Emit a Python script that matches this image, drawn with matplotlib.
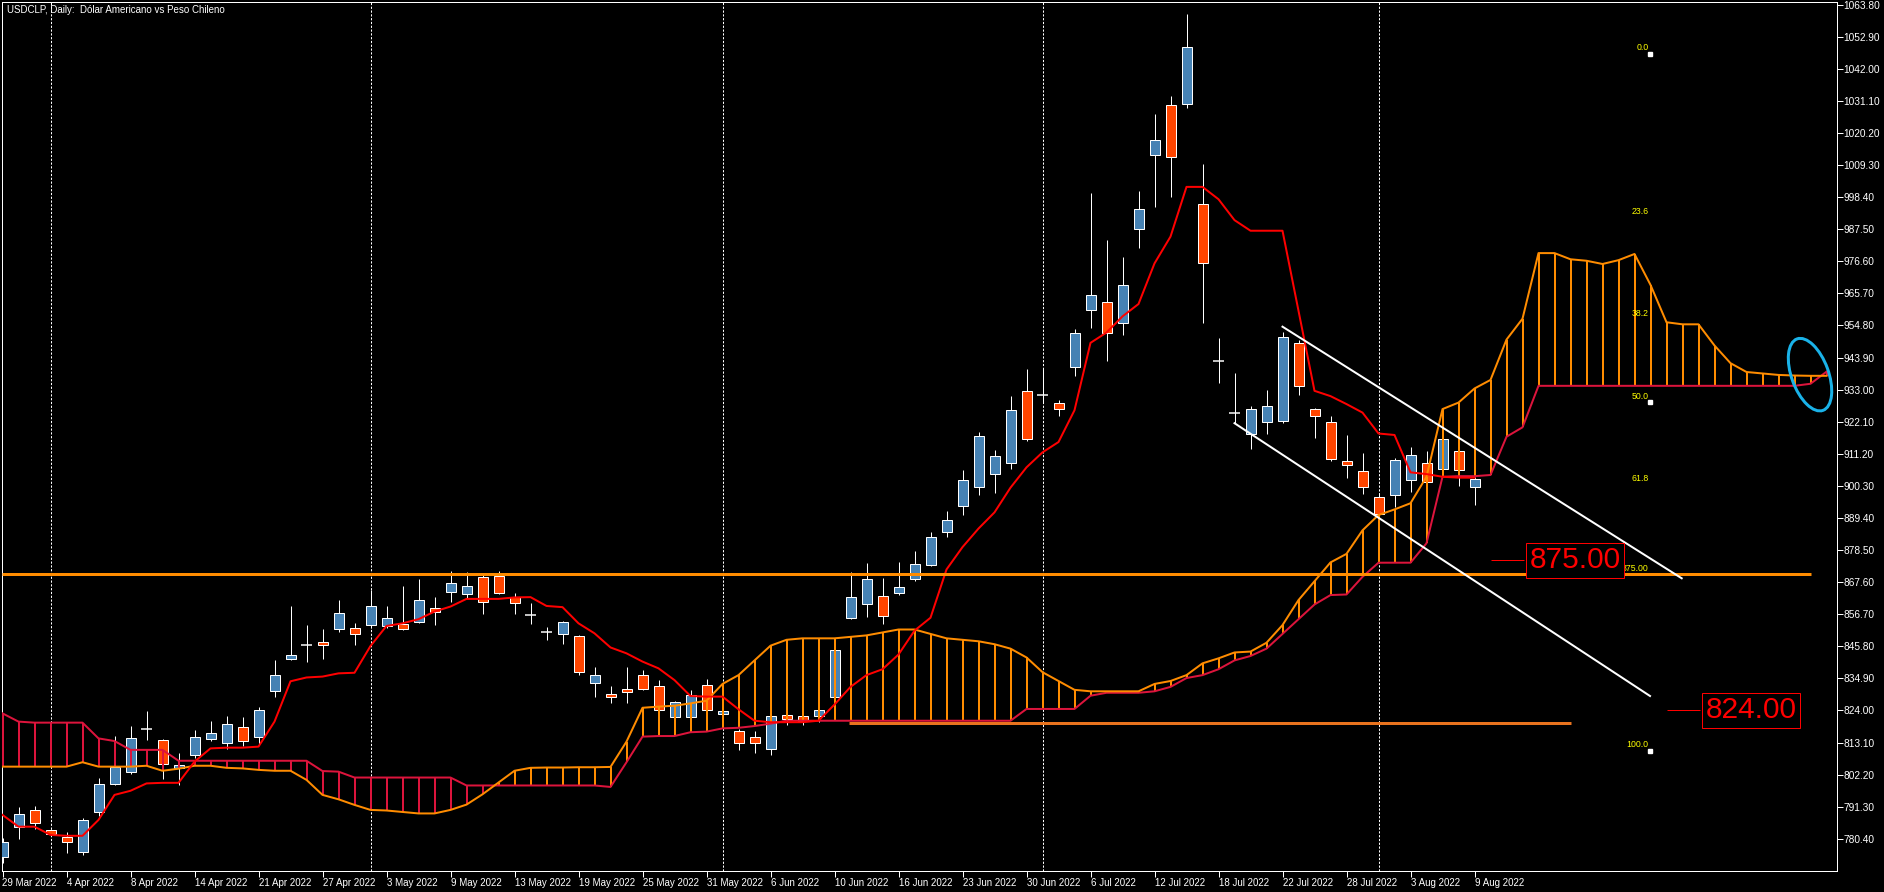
import numpy as np
import matplotlib
matplotlib.use("Agg")
import matplotlib.pyplot as plt
from matplotlib.patches import Ellipse
from matplotlib.transforms import Affine2D

plt.rcParams['font.family'] = ['Liberation Sans', 'DejaVu Sans']

# ---------------- data ----------------
x_labels = ["29 Mar 2022", "4 Apr 2022", "8 Apr 2022", "14 Apr 2022", "21 Apr 2022",
            "27 Apr 2022", "3 May 2022", "9 May 2022", "13 May 2022", "19 May 2022",
            "25 May 2022", "31 May 2022", "6 Jun 2022", "10 Jun 2022", "16 Jun 2022",
            "23 Jun 2022", "30 Jun 2022", "6 Jul 2022", "12 Jul 2022", "18 Jul 2022",
            "22 Jul 2022", "28 Jul 2022", "3 Aug 2022", "9 Aug 2022"]
month_start_bars = [3, 23, 45, 65, 86]

opens = [774.2, 784.3, 790.0, 783.3, 781.0, 776.0, 789.6, 798.9, 803.2, 817.6,
         813.8, 804.4, 808.7, 814.4, 812.8, 818.3, 814.9, 830.5, 841.4, 846.2,
         847.1, 851.6, 851.9, 852.9, 852.8, 853.4, 854.2, 858.7, 864.3, 863.4,
         869.2, 869.6, 862.7, 856.5, 850.8, 849.9, 849.2, 833.4, 829.5, 831.2,
         835.9, 832.2, 821.6, 821.6, 832.5, 822.7, 816.9, 815.0, 811.0, 822.5,
         822.0, 822.0, 828.6, 855.3, 860.1, 862.9, 863.9, 868.6, 873.3, 884.8,
         893.4, 899.8, 904.2, 908.0, 932.4, 931.3, 928.6, 940.6, 960.0, 962.9,
         955.8, 987.5, 1012.7, 1029.6, 1029.9, 996.0, 942.8, 925.2, 918.1, 922.1,
         922.2, 949.0, 926.3, 921.9, 908.6, 905.2, 896.4, 897.1, 902.2, 908.2,
         905.9, 912.0, 899.8]
highs = [780.5, 791.3, 791.5, 783.6, 782.7, 787.6, 801.0, 815.3, 818.7, 823.7,
         814.2, 809.6, 817.3, 820.4, 822.1, 821.8, 825.3, 841.1, 859.5, 853.0,
         851.7, 861.5, 853.6, 864.9, 859.5, 866.3, 868.7, 862.5, 871.4, 870.9,
         870.0, 871.4, 863.8, 860.5, 852.2, 854.4, 849.6, 838.8, 832.3, 838.8,
         837.7, 834.3, 827.2, 830.9, 834.7, 824.0, 817.6, 817.0, 823.0, 825.0,
         823.0, 826.0, 846.0, 870.9, 874.0, 869.0, 874.3, 878.2, 884.7, 891.8,
         905.6, 918.7, 912.4, 930.9, 939.9, 940.2, 929.4, 953.7, 999.8, 984.0,
         978.0, 1000.5, 1026.6, 1032.8, 1060.5, 1009.6, 950.6, 938.5, 927.4, 932.9,
         952.5, 950.0, 926.7, 924.2, 917.6, 911.4, 898.0, 909.7, 913.5, 912.1,
         916.5, 912.5, 903.3]
lows = [772.0, 780.2, 783.6, 781.5, 775.4, 774.9, 788.1, 798.5, 802.5, 813.9,
        800.7, 798.7, 808.0, 813.7, 810.8, 812.0, 812.6, 828.7, 841.0, 840.6,
        841.6, 850.8, 846.3, 852.0, 851.9, 851.5, 853.8, 853.0, 860.8, 862.1,
        856.8, 863.6, 856.8, 853.5, 847.9, 846.7, 836.0, 828.6, 826.6, 826.6,
        830.9, 823.5, 821.0, 821.0, 823.5, 822.0, 810.5, 809.5, 809.0, 819.0,
        819.0, 820.0, 828.0, 855.0, 855.7, 853.2, 863.3, 868.0, 873.0, 883.0,
        890.4, 897.3, 897.9, 906.2, 915.6, 928.8, 924.2, 937.8, 954.0, 942.9,
        951.7, 981.2, 995.1, 998.4, 1028.6, 955.8, 935.3, 921.5, 912.9, 918.0,
        921.8, 931.3, 916.7, 908.9, 903.1, 897.5, 890.5, 893.0, 898.3, 901.0,
        905.5, 900.3, 893.8]
closes = [779.4, 788.8, 785.9, 781.9, 779.4, 786.8, 798.9, 804.9, 814.5, 817.6,
          805.7, 805.3, 814.9, 816.2, 819.3, 813.7, 824.0, 835.9, 842.7, 846.2,
          846.1, 857.0, 849.9, 859.4, 855.3, 851.8, 861.4, 857.6, 867.2, 866.2,
          861.0, 864.0, 860.4, 856.5, 850.8, 853.9, 837.2, 835.9, 828.4, 830.1,
          831.4, 824.0, 826.7, 829.1, 824.0, 823.7, 812.8, 813.0, 822.0, 821.0,
          820.5, 824.0, 844.5, 862.4, 868.5, 856.0, 866.1, 873.9, 883.0, 888.8,
          902.4, 917.4, 910.6, 926.0, 916.3, 931.3, 926.4, 952.1, 965.0, 952.1,
          968.7, 994.5, 1018.0, 1012.0, 1049.3, 975.9, 942.8, 925.2, 926.3, 927.4,
          950.8, 934.1, 924.2, 909.3, 907.3, 899.8, 890.7, 909.1, 910.7, 901.5,
          916.1, 905.7, 902.7]

kijun = [788.5, 784.5, 784.5, 781.7, 781.4, 781.4, 786.8, 795.3, 796.7, 799.2,
         799.4, 799.4, 806.6, 811.1, 811.35, 811.35, 811.7, 820.2, 833.9, 835.2,
         835.5, 836.6, 836.8, 845.9, 852.7, 853.6, 855.0, 857.6, 859.3, 861.9,
         861.9, 861.9, 862.4, 862.5, 859.5, 859.1, 853.6, 850.2, 845.4, 843.4,
         840.6, 838.3, 834.3, 828.9, 828.7, 828.7, 824.4, 820.5, 820.0, 820.0,
         820.0, 820.5, 826.0, 832.0, 836.0, 838.0, 843.0, 851.1, 855.5, 871.9,
         879.5, 885.8, 891.3, 899.7, 906.6, 911.7, 915.2, 926.0, 948.9, 952.4,
         957.9, 962.1, 975.9, 985.0, 1001.9, 1001.9, 997.7, 990.6, 987.0, 987.0,
         987.0, 959.8, 932.6, 930.8, 928.1, 925.2, 918.1, 917.6, 904.9, 904.3,
         903.4, 903.1, 903.1]

span_a = [804.9, 804.9, 804.9, 804.9, 804.9, 806.4, 804.9, 804.9, 804.9, 805.2,
          803.5, 804.2, 805.2, 805.2, 804.5, 804.3, 803.8, 803.5, 803.5, 800.4,
          795.3, 793.8, 791.9, 790.2, 790.0, 789.5, 789.0, 789.0, 790.2, 792.0,
          795.5, 799.5, 803.5, 804.5, 804.6, 804.6, 804.7, 804.7, 804.8, 813.4,
          824.9, 825.3, 825.6, 826.4, 827.3, 833.0, 836.0, 841.0, 846.0, 848.0,
          848.5, 848.5, 848.5, 849.0, 849.5, 850.5, 851.5, 851.5, 850.0, 848.5,
          848.0, 847.5, 846.5, 845.0, 842.0, 837.0, 834.0, 831.0, 830.5, 830.5,
          830.5, 830.5, 833.0, 834.0, 836.0, 840.0, 841.7, 843.7, 844.0, 847.0,
          853.0, 861.5, 867.9, 874.3, 877.2, 885.2, 890.4, 892.3, 894.4, 903.4,
          926.4, 928.6, 933.4, 936.3, 950.0, 957.1, 979.4, 979.4, 977.3, 976.8,
          975.7, 977.0, 979.1, 968.6, 955.9, 955.2, 955.2, 948.0, 942.0, 939.0,
          938.5, 938.0, 937.8, 937.7, 937.7]
span_b = [823.0, 820.2, 819.85, 819.85, 819.85, 819.85, 814.5, 813.6, 810.6, 810.6,
          810.6, 806.9, 806.9, 806.9, 806.9, 806.9, 806.9, 806.9, 806.9, 806.9,
          803.4, 803.2, 801.2, 801.2, 801.2, 801.2, 801.2, 801.2, 801.2, 798.5,
          798.5, 798.5, 798.5, 798.5, 798.5, 798.5, 798.5, 798.5, 798.0, 806.4,
          815.1, 815.3, 815.3, 816.6, 816.8, 817.9, 818.1, 818.7, 819.5, 820.5,
          820.5, 820.5, 820.5, 820.5, 820.5, 820.5, 820.5, 820.5, 820.5, 820.5,
          820.5, 820.5, 820.5, 820.5, 824.5, 824.5, 824.5, 824.5, 829.0, 830.0,
          830.0, 830.0, 830.5, 832.0, 835.0, 836.0, 838.0, 841.0, 842.5, 845.0,
          850.0, 855.0, 860.0, 863.2, 863.4, 869.4, 874.2, 874.2, 874.2, 880.8,
          903.4, 903.6, 903.6, 904.0, 917.0, 920.2, 934.3, 934.3, 934.3, 934.3,
          934.3, 934.3, 934.3, 934.3, 934.3, 934.3, 934.3, 934.3, 934.3, 934.3,
          934.3, 934.3, 934.3, 935.0, 939.1]

# horizontal levels, channel and labels
level_upper = 870.4          # orange support line
upper_line_end_bar = 113.0
level_lower = 819.6          # darker orange line
lower_line_bars = (52.9, 98.0)
channel_upper = [(80.0, 954.4), (104.95, 868.9)]
channel_lower = [(77.0, 921.6), (102.97, 828.9)]
fib_high, fib_low = 1047.2, 810.2
fib_levels = [0.0, 23.6, 38.2, 50.0, 61.8, 100.0]
fib_bar = 102.97
price_tags = [(875.0, "875.00", 93.0, 95.1, 98.3), (824.0, "824.00", 104.0, 106.1, 109.3)]

# ---------------- figure ----------------
W, H = 1884, 892
fig = plt.figure(figsize=(W / 100, H / 100), dpi=100, facecolor="black")
left_px, right_px, top_px, bot_px = 2.3, 1836.5, 2.3, 871.0
ax = fig.add_axes([left_px / W, (H - bot_px) / H, (right_px - left_px) / W, (bot_px - top_px) / H])
ax.set_facecolor("black")
ax.set_xlim(-0.0125, 114.625)
ax.set_ylim(769.44, 1064.62)

n = len(opens)
idx = np.arange(n)
o = np.array(opens); c = np.array(closes); hi = np.array(highs); lo = np.array(lows)

BULL, BEAR = "#4682B4", "#FF4500"
ORANGE, CRIMSON, RED = "#FF8C00", "#DC143C", "#FF0000"
px = 0.72  # points per pixel

# month separators
for b in month_start_bars:
    ax.axvline(b, color="white", lw=1 * px, dashes=(2.2, 1.6), zorder=1)

# candles
ax.vlines(idx, lo, hi, color="white", lw=1 * px, zorder=2)
body_bottom = np.minimum(o, c)
body_h = np.abs(c - o)
colors = [BULL if cc > oo else BEAR for oo, cc in zip(o, c)]
is_body = body_h > 0.05
ax.bar(idx[is_body], body_h[is_body], bottom=body_bottom[is_body], width=0.625,
       color=np.array(colors)[is_body], edgecolor="white", linewidth=1 * px, zorder=3)
doji = ~is_body
ax.hlines(c[doji], idx[doji] - 0.34, idx[doji] + 0.34, color="white", lw=1.5 * px, zorder=3)

# ichimoku cloud
A = np.array(span_a); B = np.array(span_b)
ci = np.arange(len(A))
hatch_colors = [ORANGE if a >= b else CRIMSON for a, b in zip(A, B)]
ax.vlines(ci, np.minimum(A, B), np.maximum(A, B), colors=hatch_colors, lw=2 * px, zorder=4)
ax.plot(ci, B, color=CRIMSON, lw=2 * px, zorder=4.2)
ax.plot(ci, A, color=ORANGE, lw=2 * px, zorder=4.3)

# kijun line
ax.plot(idx, kijun, color=RED, lw=2 * px, zorder=4.5)

# horizontal lines
ax.hlines(level_upper, ax.get_xlim()[0], upper_line_end_bar, color=ORANGE, lw=3 * px, zorder=5)
ax.hlines(level_lower, lower_line_bars[0], lower_line_bars[1], color="#E8731E", lw=3 * px, zorder=5)

# channel
for seg in (channel_upper, channel_lower):
    ax.plot([seg[0][0], seg[1][0]], [seg[0][1], seg[1][1]], color="white", lw=2 * px, zorder=5)

# fibonacci labels
fib_font = dict(color="#FFFF00", fontsize=6.3, ha="right", va="bottom", zorder=6)
for lv in fib_levels:
    price = fib_high - (fib_high - fib_low) * lv / 100.0
    ax.text(fib_bar - 0.08, price + 0.6, f"{lv:.1f}", **fib_font)
for lv in (0.0, 50.0, 100.0):
    price = fib_high - (fib_high - fib_low) * lv / 100.0
    ax.plot([fib_bar], [price], marker="s", ms=3, color="white", mec="white", zorder=6)
ax.text(fib_bar - 0.08, level_upper + 0.4, "875.00", **fib_font)

# price tags
for price, label, lead_x0, lead_x1, cx in price_tags:
    ax.hlines(price, lead_x0, lead_x1, color=RED, lw=1 * px, zorder=7)
    ax.text(cx, price, label, color=RED, fontsize=21.5, ha="center", va="center",
            zorder=8, bbox=dict(boxstyle="square,pad=0.12", fc="black", ec=RED, lw=1 * px))

# title
ax.text(0.0026, 0.997, "USDCLP, Daily:  Dólar Americano vs Peso Chileno", transform=ax.transAxes,
        color="white", fontsize=7, ha="left", va="top", zorder=9)

# axes styling
for s in ax.spines.values():
    s.set_color("white"); s.set_linewidth(1 * px)
ax.yaxis.tick_right()
yt = np.round(780.40 + 10.9 * np.arange(27), 2)
ax.set_yticks(yt)
ax.set_yticklabels([f"{v:.2f}" for v in yt])
ax.tick_params(axis="y", colors="white", length=4, width=1 * px, pad=1.2, labelsize=7.3, direction="out")
ax.set_xticks(np.arange(0, n, 4))
ax.set_xticklabels(x_labels, ha="left")
ax.tick_params(axis="x", colors="white", length=4, width=1 * px, pad=1.0, labelsize=7, direction="out")

# ellipse highlight (in pixels around an anchor price/bar)
fig.canvas.draw()
cx_px, cy_px = ax.transData.transform((112.97, 938.1))
ell = Ellipse((0, 0), 76, 37, angle=110, fill=False, ec="#1AB2E8", lw=3 * px,
              transform=Affine2D().translate(cx_px, cy_px), zorder=10)
ax.add_artist(ell)
ell.set_clip_on(False)

fig.savefig("out.png", dpi=100, facecolor="black")
